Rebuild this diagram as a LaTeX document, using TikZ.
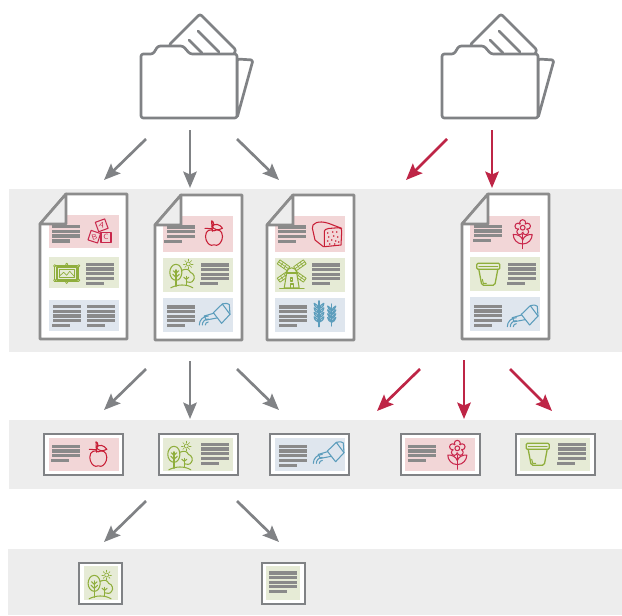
\documentclass[tikz,border=0pt]{standalone}
\usepackage{tikz}
\usepackage{xcolor}
\usetikzlibrary{arrows.meta, fit}
\definecolor{bandgray}{HTML}{EDEDED}
\definecolor{linegray}{HTML}{808285}
\definecolor{framegray}{HTML}{8C8C8C}
\definecolor{txtgray}{HTML}{8A8A8A}
\definecolor{flowred}{HTML}{BE2546}
\definecolor{iconred}{HTML}{C9284C}
\definecolor{foodred}{HTML}{C81E36}
\definecolor{icongreen}{HTML}{8FAE3C}
\definecolor{iconblue}{HTML}{5C9DBC}
\definecolor{panelpink}{HTML}{F2D6D7}
\definecolor{panelgreen}{HTML}{E6EBD6}
\definecolor{panelblue}{HTML}{DFE6EE}
\tikzset{
  bandbox/.style={rectangle, fill=bandgray, inner sep=0pt},
  panelbox/.style={rectangle, fill=#1, inner sep=0pt},
  cardbox/.style={rectangle, draw=linegray, fill=white, line width=2.4pt, inner sep=0pt},
  grayflow/.style={-{Stealth[length=14pt,width=11.5pt,inset=2.5pt]}, linegray, line width=2.3pt},
  redflow/.style={-{Stealth[length=14pt,width=11.5pt,inset=2.5pt]}, flowred, line width=2.3pt},
  icon/.style={draw=#1, line width=0.9pt, line cap=round, line join=round, fill=none},
  blockletter/.style={text=iconred, font=\fontsize{6.5}{6.5}\selectfont\sffamily, inner sep=0pt},
  folder/.pic={
    \draw[linegray, line width=2.3pt, line join=round, rounded corners=1.5pt, fill=white] (96,5) -- (112,6) -- (96,64) -- cycle;
    \draw[linegray, line width=2.3pt, line join=round, rounded corners=2pt, fill=white] (28,-9) -- (59,-40) -- (95,-4) -- (92,2) -- (40,2) -- cycle;
    \draw[linegray, line width=2.3pt, line cap=round] (48,-14) -- (61,-1);
    \draw[linegray, line width=2.3pt, line cap=round] (57,-23) -- (78,-2);
    \draw[linegray, line width=2.3pt, line join=round, rounded corners=2pt, fill=white] (0,0) -- (12,0) -- (17,-8) -- (42,-8) -- (49,0) -- (96,0) -- (96,64) -- (0,64) -- cycle;
  },
  docpage/.pic={
    \draw[framegray, line width=2.3pt, line join=round, fill=white] (26,0) -- (87,0) -- (87,145) -- (0,145) -- (0,30) -- cycle;
  },
  docfold/.pic={
    \draw[framegray, line width=2.3pt, line join=round, fill=bandgray] (26,0) -- (26,30) -- (0,30) -- cycle;
  },
  apple/.pic={
    \draw[icon=foodred] (0,-6.5) .. controls (-3,-8.5) and (-8.5,-7.5) .. (-8.5,-1) .. controls (-8.5,4) and (-5,8) .. (-2.5,8) .. controls (-1.5,8) and (-1,7.5) .. (0,7.5) .. controls (1,7.5) and (1.5,8) .. (2.5,8) .. controls (5,8) and (8.5,4) .. (8.5,-1) .. controls (8.5,-7.5) and (3,-8.5) .. (0,-6.5);
    \draw[icon=foodred] (-1.7,-6) .. controls (-1.5,-10) and (-3,-13) .. (-2.3,-16.5) .. controls (0,-16) and (0,-12) .. (-1.5,-10);
    \draw[icon=foodred] (-2,-11) .. controls (1,-14.5) and (6,-13) .. (8.5,-9) .. controls (4,-6.5) and (0,-7.5) .. (-2,-11);
    \draw[icon=foodred] (-9,-9) -- (-1.5,-8.5);
  },
  trees/.pic={
    \draw[icon=icongreen] (-7.3,-9) .. controls (-3,-9) and (-1,-4) .. (-1.5,0) .. controls (-2,4) and (-4,7) .. (-7.3,7) .. controls (-11,7) and (-13.5,3) .. (-13.5,-1) .. controls (-13.5,-5) and (-11,-9) .. (-7.3,-9);
    \draw[icon=icongreen] (-1.5,-3) .. controls (3,-5) and (6,-4) .. (7,-1) .. controls (11,0) and (12,5) .. (10,7) .. controls (9,9.5) and (5,9.5) .. (3,8.5);
    \draw[icon=icongreen] (-7.3,-3.5) -- (-7.3,13);
    \draw[icon=icongreen] (-7.3,0) -- (-10,-2.5) (-7.3,0) -- (-4.6,-2.5) (-7.3,4) -- (-10.5,1) (-7.3,4) -- (-4,1);
    \draw[icon=icongreen] (3,3) -- (3,12);
    \draw[icon=icongreen] (3,6) -- (0.5,4) (3,6) -- (5.5,4);
    \draw[icon=icongreen] (-12.5,14.5) .. controls (-6,11) and (3,10.5) .. (9.5,14.5);
    \draw[icon=icongreen, line width=0.6pt] (5,-9.3) circle (2);
    \foreach \a in {0,45,...,315} {\draw[icon=icongreen, line width=0.5pt] (5,-9.3) ++(\a:3) -- ++(\a:1.8);}
  },
  wateringcan/.pic={
    \draw[icon=iconblue] (0,-2.3) -- (9,-11) -- (16.7,-0.7) -- (8.3,8.3) -- cycle;
    \draw[icon=iconblue] (9,-11) .. controls (13,-12) and (15,-11.5) .. (16,-10.5) -- (16.7,-0.7);
    \draw[icon=iconblue] (-9,1) -- (0.5,-1.8) (-7,5) -- (3.5,3);
    \draw[icon=iconblue] (-9,1) -- (-7,5);
    \draw[icon=iconblue] (-8,10) arc (180:270:3);
    \draw[icon=iconblue] (-11,10) arc (180:270:6);
    \draw[icon=iconblue] (-14,10) arc (180:270:9);
  },
  loaf/.pic={
    \draw[icon=foodred] (-3.3,11.7) -- (-11.7,5) -- (-14.3,-6.7) .. controls (-15.5,-11.7) and (-8,-15) .. (1.7,-11.7) -- (15,-6.7);
    \draw[icon=foodred] (-2.3,-1.7) .. controls (-3,-6) and (0,-6) .. (1.7,-6.5) -- (11.7,-7.3) .. controls (14,-7.3) and (15.5,-6) .. (15,-4) -- (14.3,10) -- (-2.3,11.7) -- cycle;
    \foreach \p in {(1,-2),(6,-3),(10,-3),(2,2),(7,1),(11,2),(1,6),(5,5),(9,6),(12,7),(3,9),(8,9)} {\fill[foodred] \p circle (0.8);}
  },
  windmill/.pic={
    \foreach \a in {35,145,215,325} {
      \begin{scope}[shift={(0,-4)}, rotate=\a]
        \draw[icon=icongreen, line width=0.7pt] (4,-2.4) rectangle (16,2.4);
        \draw[icon=icongreen, line width=0.6pt] (0,0) -- (16,0);
        \draw[icon=icongreen, line width=0.5pt] (8,-2.4) -- (8,2.4) (12,-2.4) -- (12,2.4);
      \end{scope}
    }
    \draw[icon=icongreen, fill=panelgreen] (-5,-2) .. controls (-4,-9) and (4,-9) .. (5,-2) -- (7.5,13) -- (-7.5,13) -- cycle;
    \draw[icon=icongreen] (-6,-2) -- (6,-2);
    \draw[icon=icongreen] (-12,13.5) -- (12.5,13.5);
    \draw[icon=icongreen] (-1.5,13) -- (-1.5,9) -- (1.5,9) -- (1.5,13);
    \draw[icon=icongreen] (-1,3) rectangle (1,6);
  },
  wheatear/.pic={
    \draw[icon=iconblue] (0,-13) -- (0,13);
    \foreach \y in {-8,-3.5,1,5.5} {
      \draw[icon=iconblue, line width=1pt] (0,\y+3) .. controls (-2,\y+2) and (-4.8,\y+1) .. (-4.8,\y-2.5) .. controls (-3,\y-1.5) and (-0.5,\y) .. (0,\y+3);
      \draw[icon=iconblue, line width=1pt] (0,\y+3) .. controls (2,\y+2) and (4.8,\y+1) .. (4.8,\y-2.5) .. controls (3,\y-1.5) and (0.5,\y) .. (0,\y+3);
    }
  },
  flower/.pic={
    \foreach \a in {18,90,162,234,306} {\draw[icon=iconred] (0,-7.3) ++(-\a:5) circle (3);}
    \fill[panelpink] (0,-7.3) circle (4.2);
    \draw[icon=iconred] (0,-7.3) circle (2.4);
    \draw[icon=iconred, line width=1.2pt] (0,-0.5) -- (0,13.5);
    \draw[icon=iconred] (0,9) .. controls (-6,9) and (-9.5,4) .. (-9.5,-0.5) .. controls (-6,-1) and (-1,1) .. (0,5);
    \draw[icon=iconred] (0,9) .. controls (6,9) and (9.5,4) .. (9.5,-0.5) .. controls (6,-1) and (1,1) .. (0,5);
  },
  pot/.pic={
    \draw[icon=icongreen, line width=1.1pt, rounded corners=1pt] (-11.5,-11) rectangle (11.5,-5);
    \draw[icon=icongreen, line width=0.7pt] (-9.5,-7.5) -- (9.5,-7.5);
    \draw[icon=icongreen, line width=1.1pt, rounded corners=1.5pt] (-9.5,-5) -- (-6.5,11) -- (6.5,11) -- (9.5,-5);
    \draw[icon=icongreen] (-6,5) -- (-5,9) -- (-2,9);
  },
  frame/.pic={
    \draw[icon=icongreen, line width=1.5pt] (-10,-6.5) rectangle (10,7);
    \draw[icon=icongreen, line width=0.7pt] (-12,-7.5) rectangle (12,8);
    \draw[icon=icongreen, line width=0.7pt] (-7.5,-4) rectangle (7.5,4.5);
    \draw[icon=icongreen, line width=0.6pt] (-7.5,3) -- (-3,-1) -- (0,2) -- (3,-2) -- (7.5,3);
    \foreach \p in {(-12,-7.5),(12,-7.5),(-12,7),(12,7),(0,-9),(0,9)} {\draw[icon=icongreen, fill=panelgreen, line width=0.6pt] \p circle (1.2);}
  },
}
% text lines: x, y of first line, number of full lines, x of short line
\newcommand{\txtlines}[4]{
  \foreach \k in {1,...,#3} {\fill[txtgray] (#1,{#2+(\k-1)*4.6-1.6}) rectangle ++(28,3.2);}
  \fill[txtgray] (#4,{#2+#3*4.6+0.4-1.6}) rectangle ++(18,3.2);
}
\begin{document}
\begin{tikzpicture}[x=0.03cm, y=-0.03cm]
\useasboundingbox (0,0) rectangle (622,615);

% Bands
\node[bandbox, fit={(9,189) (622,352)}] (bandDocs) {};
\node[bandbox, fit={(9,420) (622,489)}] (bandBlocks) {};
\node[bandbox, fit={(8,549) (622,615)}] (bandItems) {};

% Folders
\pic (folderA) at (141,54) {folder};
\pic (folderB) at (442,54) {folder};

% Arrows from the folders
\coordinate (fa1) at (146,139); \coordinate (da1) at (104,180);
\coordinate (fa2) at (190,130); \coordinate (da2) at (190,188);
\coordinate (fa3) at (237,139); \coordinate (da3) at (279,180);
\coordinate (fb1) at (447,139); \coordinate (db1) at (406,180);
\coordinate (fb2) at (492,130); \coordinate (db2) at (492,188);
\draw[grayflow] (fa1) -- (da1);
\draw[grayflow] (fa2) -- (da2);
\draw[grayflow] (fa3) -- (da3);
\draw[redflow] (fb1) -- (db1);
\draw[redflow] (fb2) -- (db2);

% Pages
\pic (pageA) at (40,194) {docpage};
\pic (pageB) at (155,195) {docpage};
\pic (pageC) at (267,195) {docpage};
\pic (pageD) at (462,194) {docpage};

% Page A
\node[panelbox=panelpink, fit={(49,215) (119,248)}] (pinkA) {};
\node[panelbox=panelgreen, fit={(49,257) (119,288)}] (greenA) {};
\node[panelbox=panelblue, fit={(49,300) (119,331)}] (blueA) {};
\txtlines{52}{226.7}{3}{52}
\txtlines{86}{264.3}{4}{86}
\txtlines{53}{306.7}{4}{52}
\txtlines{87}{306.7}{4}{87}
\foreach \px/\py/\rot/\ch in {101.7/225.3/20/A, 94.3/236.7/-18/B, 106/237.3/0/C} {
  \draw[icon=iconred, rotate around={\rot:(\px,\py)}] (\px-5,\py-5) rectangle (\px+5,\py+5);
  \node[blockletter, rotate=-\rot] (block\ch) at (\px,\py) {\ch};
}
\pic (frameA) at (66.7,273.3) {frame};
\pic (foldA) at (40,194) {docfold};

% Page B
\node[panelbox=panelpink, fit={(163,216) (233,252)}] (pinkB) {};
\node[panelbox=panelgreen, fit={(163,258) (233,292)}] (greenB) {};
\node[panelbox=panelblue, fit={(163,298) (233,332)}] (blueB) {};
\txtlines{167}{227}{3}{164}
\txtlines{201}{265}{4}{200}
\txtlines{167}{307}{4}{167}
\pic (appleB) at (214,237.3) {apple};
\pic (treesB) at (183.3,273.3) {trees};
\pic (canB) at (213.3,315) {wateringcan};
\pic (foldB) at (155,195) {docfold};

% Page C
\node[panelbox=panelpink, fit={(275,216) (345,252)}] (pinkC) {};
\node[panelbox=panelgreen, fit={(275,258) (345,292)}] (greenC) {};
\node[panelbox=panelblue, fit={(275,298) (345,332)}] (blueC) {};
\txtlines{278}{227}{3}{278}
\txtlines{312}{265}{4}{312}
\txtlines{279}{307}{4}{279}
\pic (loafC) at (326.7,235) {loaf};
\pic (millC) at (291.7,275) {windmill};
\pic (wheatC) at (319,313.8) {wheatear};
\pic[scale=0.85] (wheatD) at (331.7,315) {wheatear};
\pic (foldC) at (267,195) {docfold};

% Page D
\node[panelbox=panelpink, fit={(470,216) (540,252)}] (pinkD) {};
\node[panelbox=panelgreen, fit={(470,257) (540,291)}] (greenD) {};
\node[panelbox=panelblue, fit={(470,297) (540,331)}] (blueD) {};
\txtlines{474}{226.3}{3}{473}
\txtlines{508}{264.3}{4}{507}
\txtlines{474}{306.3}{4}{474}
\pic (flowerD) at (522.7,235) {flower};
\pic (potD) at (488.3,274.3) {pot};
\pic (canD) at (521.3,316.7) {wateringcan};
\pic (foldD) at (462,194) {docfold};

% Arrows from the pages
\coordinate (pa1) at (146,369); \coordinate (ba1) at (104,410);
\coordinate (pa2) at (190,361); \coordinate (ba2) at (190,419);
\coordinate (pa3) at (237,369); \coordinate (ba3) at (279,410);
\coordinate (pb1) at (420,369); \coordinate (bb1) at (377,411);
\coordinate (pb2) at (464,360); \coordinate (bb2) at (464,419);
\coordinate (pb3) at (510,369); \coordinate (bb3) at (552,411);
\draw[grayflow] (pa1) -- (ba1);
\draw[grayflow] (pa2) -- (ba2);
\draw[grayflow] (pa3) -- (ba3);
\draw[redflow] (pb1) -- (bb1);
\draw[redflow] (pb2) -- (bb2);
\draw[redflow] (pb3) -- (bb3);

% Blocks
\node[cardbox, fit={(44,434) (123,475)}] (cardA) {};
\node[cardbox, fit={(159,434) (238,475)}] (cardB) {};
\node[cardbox, fit={(270,434) (349,475)}] (cardC) {};
\node[cardbox, fit={(401,434) (480,475)}] (cardD) {};
\node[cardbox, fit={(516,434) (595,475)}] (cardE) {};
\node[panelbox=panelpink, fit={(49,438) (119,471)}] (pinkCardA) {};
\node[panelbox=panelgreen, fit={(163,438) (233,471)}] (greenCardB) {};
\node[panelbox=panelblue, fit={(275,438) (345,471)}] (blueCardC) {};
\node[panelbox=panelpink, fit={(405,438) (475,471)}] (pinkCardD) {};
\node[panelbox=panelgreen, fit={(520,438) (590,471)}] (greenCardE) {};
\txtlines{52}{446.3}{3}{51}
\txtlines{201}{444.3}{4}{201}
\txtlines{279}{446.3}{4}{279}
\txtlines{408}{446.3}{3}{408}
\txtlines{558}{444.3}{4}{557}
\pic (appleCard) at (98.3,458.3) {apple};
\pic (treesCard) at (181.3,455.3) {trees};
\pic (canCard) at (327.3,453.4) {wateringcan};
\pic (flowerCard) at (457.3,455.6) {flower};
\pic (potCard) at (537.7,454.3) {pot};

% Arrows from the blocks
\coordinate (ca1) at (146,501); \coordinate (ia1) at (104,542);
\coordinate (ca2) at (237,501); \coordinate (ia2) at (279,542);
\draw[grayflow] (ca1) -- (ia1);
\draw[grayflow] (ca2) -- (ia2);

% Items
\node[cardbox, fit={(79,563) (122,604)}] (itemA) {};
\node[cardbox, fit={(262,563) (305,604)}] (itemB) {};
\node[panelbox=panelgreen, fit={(84,566) (118,600)}] (greenItemA) {};
\node[panelbox=panelgreen, fit={(266,566) (300,600)}] (greenItemB) {};
\pic (treesItem) at (101.6,584.3) {trees};
\txtlines{269}{573}{4}{269}

\end{tikzpicture}
\end{document}
